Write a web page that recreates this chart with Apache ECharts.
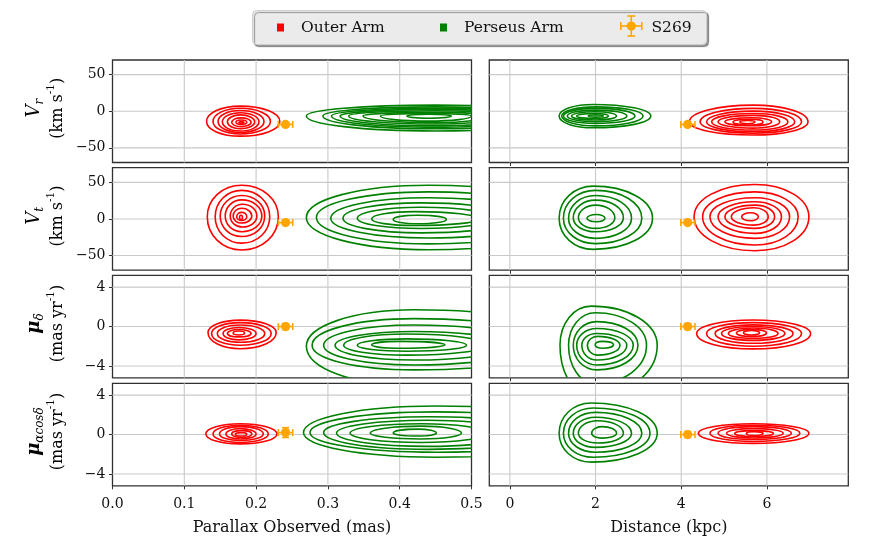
<!DOCTYPE html>
<html><head><meta charset="utf-8">
<script src="https://cdn.jsdelivr.net/npm/echarts@6.0.0/dist/echarts.min.js"></script>
<style>html,body{margin:0;padding:0;background:#fff}#c{width:872px;height:545px}</style>
</head><body><div id="c"></div>
<script>
// ---------- axes ----------
const parallaxRange = [0, 0.5];
const distanceRange = [-0.48, 7.9];
const velRange = [-70, 70];
const pmRange = [-5.2, 5.2];
const parallaxTicks = [0.0, 0.1, 0.2, 0.3, 0.4, 0.5];
const distanceTicks = [0, 2, 4, 6];
const velTicks = [-50, 0, 50];
const pmTicks = [-4, 0, 4];
const xTitles = ['Parallax Observed (mas)', 'Distance (kpc)'];

// ---------- contours: [xLeft, xRight, yBottom, yTop, xCentre, yCentre] ----------
const outerParallaxVr = [
  [0.131,0.233,-34,7,0.178,-14],[0.140,0.220,-31,4,0.178,-14],[0.147,0.211,-29,1,0.178,-14],
  [0.153,0.204,-27,-2,0.178,-14.5],[0.160,0.198,-24,-5,0.178,-14.5],[0.166,0.193,-21,-9,0.179,-15],
  [0.172,0.187,-18,-12,0.179,-15],[0.176,0.183,-16.5,-14,0.179,-15]];
const perseusParallaxVr = [
  [0.270,0.62,-27,8.4,0.45,-6.5],[0.293,0.60,-24,6,0.45,-6.5],[0.305,0.58,-22,4,0.45,-6.5],
  [0.317,0.56,-20,2.5,0.45,-6.5],[0.329,0.54,-17.5,0.6,0.45,-6.5],[0.349,0.52,-15.5,-1.6,0.45,-6.5],
  [0.373,0.50,-13.5,-3,0.44,-6.5],[0.410,0.472,-9.5,-4,0.44,-6.6]];
const outerParallaxVt = [
  [0.132,0.231,-42.5,46,0.18,3],[0.143,0.219,-33,39,0.18,3],[0.150,0.212,-24,32,0.18,4],
  [0.157,0.208,-17.5,26,0.18,4],[0.164,0.201,-11,20,0.181,4],[0.168,0.194,-5.6,14.6,0.18,4],
  [0.173,0.187,-2,9,0.18,3],[0.177,0.181,-1,5,0.179,2]];
const perseusParallaxVt = [
  [0.270,0.65,-42,46,0.44,2],[0.284,0.62,-34,37,0.44,2],[0.304,0.59,-26,29,0.44,1],
  [0.321,0.56,-19,22,0.43,1],[0.341,0.53,-13,16,0.43,1],[0.361,0.51,-9,10,0.42,0],
  [0.391,0.465,-6.5,5,0.425,-0.6]];
const outerParallaxPmd = [
  [0.133,0.228,-2.25,0.65,0.178,-0.6],[0.138,0.221,-1.9,0.4,0.178,-0.7],[0.146,0.212,-1.6,0.15,0.178,-0.7],
  [0.154,0.200,-1.35,-0.1,0.176,-0.7],[0.160,0.193,-1.05,-0.3,0.176,-0.7],[0.168,0.184,-0.85,-0.45,0.176,-0.65]];
const perseusParallaxPmd = [
  [0.270,0.66,-6.0,1.7,0.42,-2.0],[0.278,0.62,-4.4,0.8,0.42,-1.9],[0.294,0.58,-3.9,0.15,0.42,-1.9],
  [0.310,0.55,-3.4,-0.5,0.42,-1.9],[0.322,0.52,-2.9,-0.75,0.41,-1.9],[0.341,0.493,-2.5,-1.25,0.41,-1.9],
  [0.361,0.463,-2.2,-1.5,0.40,-1.85]];
const outerParallaxPma = [
  [0.130,0.229,-0.95,1.1,0.178,0.06],[0.140,0.217,-0.8,0.95,0.178,0.06],[0.149,0.210,-0.6,0.8,0.178,0.06],
  [0.158,0.200,-0.45,0.6,0.178,0.06],[0.166,0.194,-0.3,0.4,0.18,0.06],[0.171,0.187,-0.15,0.2,0.18,0.03]];
const perseusParallaxPma = [
  [0.266,0.70,-2.3,2.9,0.45,0.2],[0.275,0.64,-1.8,2.3,0.45,0.2],[0.294,0.60,-1.5,1.8,0.44,0.2],
  [0.312,0.56,-1.2,1.45,0.44,0.15],[0.331,0.52,-0.8,1.1,0.43,0.15],[0.359,0.486,-0.45,0.85,0.43,0.15],
  [0.391,0.451,-0.15,0.55,0.425,0.15]];
const outerDistanceVr = [
  [4.19,6.96,-32.5,8.4,5.68,-14.4],[4.44,6.81,-30,3.9,5.68,-14.4],[4.59,6.65,-28,0.2,5.68,-14.4],
  [4.71,6.49,-25.7,-3,5.68,-14.4],[4.86,6.30,-23,-5.7,5.68,-14.4],[5.02,6.11,-19.9,-8.9,5.66,-14.4],
  [5.21,5.91,-18.8,-11,5.62,-14.6],[5.37,5.72,-17,-12.6,5.55,-14.8]];
const perseusDistanceVr = [
  [1.15,3.29,-22.6,9.3,1.95,-6.6],[1.21,3.11,-20,6,2.0,-6.5],[1.25,2.92,-16.6,3.9,2.0,-6.5],
  [1.34,2.73,-14.3,1.6,2.0,-6.5],[1.44,2.49,-12,-0.7,2.0,-6.5],[1.56,2.30,-9.8,-3,2.0,-6.5],
  [1.83,2.18,-8,-5,2.0,-6.6]];
const outerDistanceVt = [
  [4.30,6.98,-43.4,47,5.72,3],[4.50,6.73,-35.6,37,5.72,3],[4.67,6.53,-26.5,28.9,5.72,3],
  [4.86,6.34,-19.7,23.4,5.72,3],[5.02,6.18,-12.9,18.9,5.72,3],[5.17,6.03,-8.4,15.2,5.70,3],
  [5.41,5.80,-2.5,8.4,5.62,3]];
const perseusDistanceVt = [
  [1.15,3.33,-41.5,44.8,1.95,1],[1.25,3.08,-33.7,39,2.0,1],[1.37,2.84,-26.5,32,2.0,1],
  [1.48,2.65,-17.5,25.7,2.0,1.5],[1.60,2.45,-12.9,18.9,2.0,1.5],[1.80,2.22,-3.9,6,2.02,1]];
const outerDistancePmd = [
  [4.36,7.02,-2.27,0.66,5.68,-0.7],[4.59,6.81,-2.0,0.4,5.68,-0.7],[4.79,6.61,-1.7,0.17,5.68,-0.7],
  [4.94,6.42,-1.4,0.0,5.68,-0.7],[5.10,6.26,-1.2,-0.15,5.68,-0.7],[5.29,5.99,-1.0,-0.3,5.65,-0.65],
  [5.45,5.83,-0.85,-0.4,5.64,-0.62]];
const perseusDistancePmd = [
  [1.17,3.44,-7.0,2.07,1.9,-1.9],[1.37,3.19,-5.8,1.4,2.0,-1.9],[1.48,2.99,-4.4,0.5,2.03,-1.9],
  [1.56,2.88,-3.9,-0.2,2.03,-1.9],[1.68,2.73,-3.4,-0.7,2.03,-1.9],[1.81,2.57,-2.9,-1.0,2.05,-1.9],
  [1.99,2.42,-2.2,-1.5,2.15,-1.85]];
const outerDistancePma = [
  [4.40,6.98,-0.9,1.1,5.68,0.13],[4.67,6.77,-0.7,0.95,5.68,0.13],[4.86,6.57,-0.5,0.8,5.68,0.13],
  [5.06,6.38,-0.35,0.6,5.68,0.13],[5.25,6.15,-0.2,0.4,5.68,0.1],[5.52,5.91,-0.1,0.3,5.7,0.1]];
const perseusDistancePma = [
  [1.15,3.44,-2.8,3.2,1.9,0.13],[1.25,3.27,-2.3,2.7,1.95,0.13],[1.37,3.08,-1.8,2.25,2.0,0.13],
  [1.48,2.84,-1.3,1.76,2.0,0.13],[1.60,2.65,-0.85,1.4,2.05,0.13],[1.91,2.49,-0.36,0.8,2.15,0.13]];

// ---------- S269: [x, xLow, xHigh, y, yLow, yHigh] ----------
const s269Parallax = [[0.241,0.231,0.251,-18,-20,-16],[0.241,0.231,0.251,-5,-7,-3],
                      [0.241,0.231,0.251,0,-0.3,0.3],[0.241,0.231,0.251,0.2,-0.3,0.7]];
const s269Distance = [[4.15,3.99,4.32,-18,-20,-16],[4.15,3.99,4.32,-5,-7,-3],
                      [4.15,3.99,4.32,0,-0.3,0.3],[4.15,3.99,4.32,0,-0.3,0.3]];

// ---------- labels ----------
const yLabelTexts = [
  '{m|V}{s|r}\n{u|(km s}{p|-1}{u|)}',
  '{m|V}{s|t}\n{u|(km s}{p|-1}{u|)}',
  '{g|μ}{d|δ}\n{u|(mas yr}{p|-1}{u|)}',
  '{g|μ}{d|αcosδ}\n{u|(mas yr}{p|-1}{u|)}'];
const legendNames = ['Outer Arm', 'Perseus Arm', 'S269'];

// ---------- layout ----------
const FONT = "'DejaVu Serif', serif";
const RED = '#ff0000', GREEN = '#008000', ORANGE = '#ffa500';
const colLeft = [112.5, 489.3], colWidth = 359;
const rowTop = [60, 167.7, 275.3, 383.3], rowHeight = 102.5;

const rowsCfg = [
  {yR: velRange, yT: velTicks, outer: [outerParallaxVr, outerDistanceVr], pers: [perseusParallaxVr, perseusDistanceVr]},
  {yR: velRange, yT: velTicks, outer: [outerParallaxVt, outerDistanceVt], pers: [perseusParallaxVt, perseusDistanceVt]},
  {yR: pmRange, yT: pmTicks, outer: [outerParallaxPmd, outerDistancePmd], pers: [perseusParallaxPmd, perseusDistancePmd]},
  {yR: pmRange, yT: pmTicks, outer: [outerParallaxPma, outerDistancePma], pers: [perseusParallaxPma, perseusDistancePma]}];
const colsCfg = [
  {xR: parallaxRange, xT: parallaxTicks, fmt: v => v.toFixed(1), s: s269Parallax},
  {xR: distanceRange, xT: distanceTicks, fmt: v => String(v), s: s269Distance}];

const K = 0.56;
function ellPath(L, T, R, B) {
  const f = n => n.toFixed(2);
  return 'M' + f(L[0]) + ' ' + f(L[1]) +
    ' C' + f(L[0]) + ' ' + f(L[1] - K * (L[1] - T[1])) + ' ' + f(T[0] - K * (T[0] - L[0])) + ' ' + f(T[1]) + ' ' + f(T[0]) + ' ' + f(T[1]) +
    ' C' + f(T[0] + K * (R[0] - T[0])) + ' ' + f(T[1]) + ' ' + f(R[0]) + ' ' + f(R[1] - K * (R[1] - T[1])) + ' ' + f(R[0]) + ' ' + f(R[1]) +
    ' C' + f(R[0]) + ' ' + f(R[1] + K * (B[1] - R[1])) + ' ' + f(B[0] + K * (R[0] - B[0])) + ' ' + f(B[1]) + ' ' + f(B[0]) + ' ' + f(B[1]) +
    ' C' + f(B[0] - K * (B[0] - L[0])) + ' ' + f(B[1]) + ' ' + f(L[0]) + ' ' + f(L[1] + K * (B[1] - L[1])) + ' ' + f(L[0]) + ' ' + f(L[1]) + ' Z';
}
function contourSeries(name, data, color, gi) {
  return {
    type: 'custom', name: name, xAxisIndex: gi, yAxisIndex: gi, clip: true, z: 3, silent: true,
    data: data,
    renderItem: function (params, api) {
      const xL = api.value(0), xR = api.value(1), yB = api.value(2), yT = api.value(3), xc = api.value(4), yc = api.value(5);
      const L = api.coord([xL, yc]), T = api.coord([xc, yT]), R = api.coord([xR, yc]), B = api.coord([xc, yB]);
      return {type: 'path', shape: {pathData: ellPath(L, T, R, B)},
        style: {fill: 'none', stroke: color, lineWidth: 1.6, lineJoin: 'round'}};
    }
  };
}
// vertical grid lines (one item per x tick) and horizontal grid lines (one item per y tick)
function vGridSeries(gi, xR, xT, yR) {
  const yMid = (yR[0] + yR[1]) / 2;
  return {
    type: 'custom', xAxisIndex: gi, yAxisIndex: gi, z: 1, silent: true,
    data: xT.filter(v => v > xR[0] && v < xR[1]).map(v => [v, yMid]),
    renderItem: function (params, api) {
      const cs = params.coordSys, p = api.coord([api.value(0), api.value(1)]);
      return {type: 'line', shape: {x1: p[0], y1: cs.y, x2: p[0], y2: cs.y + cs.height},
        style: {stroke: '#c9c9c9', lineWidth: 1.1}};
    }
  };
}
function hGridSeries(gi, xR, yR, yT) {
  const xMid = (xR[0] + xR[1]) / 2;
  return {
    type: 'custom', xAxisIndex: gi, yAxisIndex: gi, z: 1, silent: true,
    data: yT.filter(v => v > yR[0] && v < yR[1]).map(v => [xMid, v]),
    renderItem: function (params, api) {
      const cs = params.coordSys, p = api.coord([api.value(0), api.value(1)]);
      return {type: 'line', shape: {x1: cs.x, y1: p[1], x2: cs.x + cs.width, y2: p[1]},
        style: {stroke: '#c9c9c9', lineWidth: 1.1}};
    }
  };
}
function s269Series(d, gi) {
  return {
    type: 'custom', name: 'S269', xAxisIndex: gi, yAxisIndex: gi, z: 5, silent: true, data: [d],
    renderItem: function (params, api) {
      const x = api.value(0), xl = api.value(1), xh = api.value(2), y = api.value(3), yl = api.value(4), yh = api.value(5);
      const c = api.coord([x, y]), l = api.coord([xl, y]), r = api.coord([xh, y]), b = api.coord([x, yl]), t = api.coord([x, yh]);
      const st = {stroke: ORANGE, lineWidth: 1.6};
      const cap = 3.5;
      return {type: 'group', children: [
        {type: 'line', shape: {x1: l[0], y1: l[1], x2: r[0], y2: r[1]}, style: st},
        {type: 'line', shape: {x1: l[0], y1: l[1] - cap, x2: l[0], y2: l[1] + cap}, style: st},
        {type: 'line', shape: {x1: r[0], y1: r[1] - cap, x2: r[0], y2: r[1] + cap}, style: st},
        {type: 'line', shape: {x1: b[0], y1: b[1], x2: t[0], y2: t[1]}, style: st},
        {type: 'line', shape: {x1: b[0] - cap, y1: b[1], x2: b[0] + cap, y2: b[1]}, style: st},
        {type: 'line', shape: {x1: t[0] - cap, y1: t[1], x2: t[0] + cap, y2: t[1]}, style: st},
        {type: 'circle', shape: {cx: c[0], cy: c[1], r: 4.6}, style: {fill: ORANGE}}
      ]};
    }
  };
}

const grids = [], xAxes = [], yAxes = [], series = [];
const minus = v => String(v).replace('-', '\u2212');
for (let r = 0; r < 4; r++) {
  for (let c = 0; c < 2; c++) {
    const gi = r * 2 + c, R = rowsCfg[r], C = colsCfg[c];
    grids.push({left: colLeft[c], top: rowTop[r], width: colWidth, height: rowHeight,
      show: true, borderColor: '#303030', borderWidth: 1.3, backgroundColor: 'transparent'});
    xAxes.push({
      type: 'value', gridIndex: gi, min: C.xR[0], max: C.xR[1], position: 'bottom',
      axisLine: {show: false, onZero: false}, splitLine: {show: false},
      axisTick: {show: c === 1 || r === 3, customValues: C.xT, length: 3.5, lineStyle: {color: '#303030', width: 1}},
      axisLabel: {show: r === 3, customValues: C.xT, formatter: C.fmt, fontFamily: FONT, fontSize: 14, color: '#111', margin: 12},
      name: r === 3 ? xTitles[c] : '', nameLocation: 'middle', nameGap: 34,
      nameTextStyle: {fontFamily: FONT, fontSize: 16, color: '#111'}
    });
    yAxes.push({
      type: 'value', gridIndex: gi, min: R.yR[0], max: R.yR[1], position: 'left',
      axisLine: {show: false, onZero: false}, splitLine: {show: false},
      axisTick: {show: c === 0, customValues: R.yT, length: 3.5, lineStyle: {color: '#303030', width: 1}},
      axisLabel: {show: c === 0, customValues: R.yT, formatter: minus, fontFamily: FONT, fontSize: 14, color: '#111', margin: 7}
    });
    series.push(vGridSeries(gi, C.xR, C.xT, R.yR));
    series.push(hGridSeries(gi, C.xR, R.yR, R.yT));
    series.push(contourSeries('Outer Arm', R.outer[c], RED, gi));
    series.push(contourSeries('Perseus Arm', R.pers[c], GREEN, gi));
    series.push(s269Series(C.s[r], gi));
  }
}

// ---------- graphic: y labels and legend ----------
const rich = {
  m: {fontFamily: FONT, fontStyle: 'italic', fontSize: 18, lineHeight: 24, color: '#111'},
  s: {fontFamily: FONT, fontStyle: 'italic', fontSize: 12, lineHeight: 14, verticalAlign: 'bottom', color: '#111'},
  g: {fontFamily: FONT, fontStyle: 'italic', fontWeight: 'bold', fontSize: 18, lineHeight: 24, color: '#111'},
  d: {fontFamily: FONT, fontStyle: 'italic', fontSize: 12, lineHeight: 14, verticalAlign: 'bottom', color: '#111'},
  u: {fontFamily: FONT, fontSize: 16, lineHeight: 24, color: '#111'},
  p: {fontFamily: FONT, fontSize: 10.5, lineHeight: 12, verticalAlign: 'top', color: '#111'}
};
const graphics = [];
for (let r = 0; r < 4; r++) {
  graphics.push({type: 'text', x: 46, y: rowTop[r] + rowHeight / 2 - 3, rotation: Math.PI / 2,
    style: {text: yLabelTexts[r], rich: rich, align: 'center', verticalAlign: 'middle'}});
}
// legend box
graphics.push({type: 'rect', shape: {x: 252.5, y: 10.5, width: 454, height: 34, r: 4},
  style: {fill: '#ebebeb', stroke: '#cfcfcf', lineWidth: 1, shadowColor: 'rgba(0,0,0,0.4)', shadowOffsetX: 2, shadowOffsetY: 2, shadowBlur: 1}});
graphics.push({type: 'rect', shape: {x: 277, y: 23.5, width: 7, height: 8}, style: {fill: RED}});
graphics.push({type: 'text', x: 301, y: 27.5, style: {text: legendNames[0], font: '15.5px ' + FONT, fill: '#111', verticalAlign: 'middle'}});
graphics.push({type: 'rect', shape: {x: 440, y: 23.5, width: 7, height: 8}, style: {fill: GREEN}});
graphics.push({type: 'text', x: 464, y: 27.5, style: {text: legendNames[1], font: '15.5px ' + FONT, fill: '#111', verticalAlign: 'middle'}});
const lst = {stroke: ORANGE, lineWidth: 1.6};
graphics.push({type: 'group', x: 631.3, y: 26, children: [
  {type: 'line', shape: {x1: -10.5, y1: 0, x2: 10.5, y2: 0}, style: lst},
  {type: 'line', shape: {x1: -10.5, y1: -4, x2: -10.5, y2: 4}, style: lst},
  {type: 'line', shape: {x1: 10.5, y1: -4, x2: 10.5, y2: 4}, style: lst},
  {type: 'line', shape: {x1: 0, y1: -10, x2: 0, y2: 10}, style: lst},
  {type: 'line', shape: {x1: -4, y1: -10, x2: 4, y2: -10}, style: lst},
  {type: 'line', shape: {x1: -4, y1: 10, x2: 4, y2: 10}, style: lst},
  {type: 'circle', shape: {cx: 0, cy: 0, r: 4.6}, style: {fill: ORANGE}}]});
graphics.push({type: 'text', x: 651.5, y: 27.5, style: {text: legendNames[2], font: '15.5px ' + FONT, fill: '#111', verticalAlign: 'middle'}});

const chart = echarts.init(document.getElementById('c'), null, {renderer: 'canvas'});
chart.setOption({
  animation: false, backgroundColor: '#fff',
  grid: grids, xAxis: xAxes, yAxis: yAxes, series: series, graphic: graphics
});
</script></body></html>
